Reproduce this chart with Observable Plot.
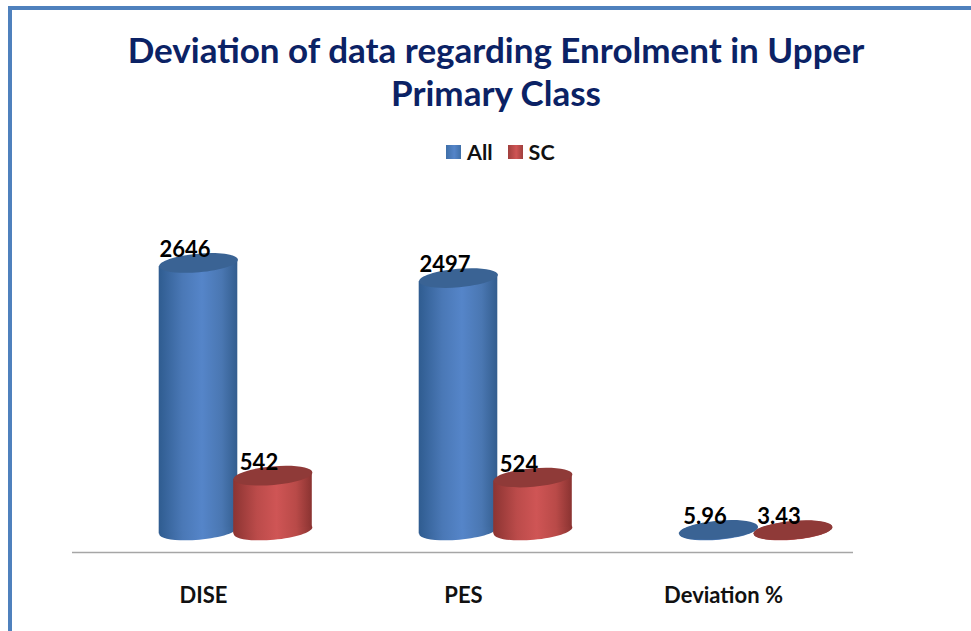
<!DOCTYPE html>
<html>
<head>
<meta charset="utf-8">
<script src="https://cdn.jsdelivr.net/npm/d3@7"></script>
<script src="https://cdn.jsdelivr.net/npm/@observablehq/plot@0.6"></script>
<style>
  html, body { margin: 0; padding: 0; background: #fff; }
  #page { position: relative; width: 971px; height: 631px; overflow: hidden; font-family: Lato, sans-serif; }
  #frame { position: absolute; left: 8px; top: 6px; right: -10px; bottom: -10px; border: 4px solid #4f81bd; }
  #title { position: absolute; left: 0; top: 28px; width: 992px; margin: 0; text-align: center;
           font: 700 35px/43px Lato, sans-serif; color: #0b2265; }
  #legend { position: absolute; top: 140px; left: 446px; height: 24px; display: flex; align-items: center;
            font: 700 21.5px/24px Lato, sans-serif; color: #111; }
  #legend i { display: inline-block; width: 15px; height: 14px; }
  #legend span { margin: 0 15px 0 6px; }
  #chart { position: absolute; left: 0; top: 180px; }
  svg { display: block; }
</style>
</head>
<body>
<div id="page">
  <div id="frame"></div>
  <h1 id="title">Deviation of data regarding Enrolment in Upper<br>Primary Class</h1>
  <div id="legend">
    <i style="background:linear-gradient(90deg,#3f6fa8,#5585c9 55%,#3f6fa8)"></i><span>All</span>
    <i style="background:linear-gradient(90deg,#a03f3d,#cf5555 55%,#a03f3d)"></i><span>SC</span>
  </div>
  <div id="chart"></div>
</div>
<script>
const categories = ["DISE", "PES", "Deviation %"];
const allValues = [2646, 2497, 5.96];
const scValues = [542, 524, 3.43];
const allLabels = ["2646", "2497", "5.96"];
const scLabels = ["542", "524", "3.43"];

const allRows = categories.map((c, i) => ({category: c, value: allValues[i], label: allLabels[i]}));
const scRows = categories.map((c, i) => ({category: c, value: scValues[i], label: scLabels[i]}));

// a tilted flat ellipse: the cylinder cap
const tilt = -5 * Math.PI / 180;
const capRatio = 0.235;
const ellipse = {
  draw(ctx, size) {
    const rx = Math.sqrt(size / Math.PI), ry = rx * capRatio, k = 0.5523;
    const c = Math.cos(tilt), s = Math.sin(tilt);
    const p = (x, y) => [x * c - y * s, x * s + y * c];
    ctx.moveTo(...p(rx, 0));
    ctx.bezierCurveTo(...p(rx, k * ry), ...p(k * rx, ry), ...p(0, ry));
    ctx.bezierCurveTo(...p(-k * rx, ry), ...p(-rx, k * ry), ...p(-rx, 0));
    ctx.bezierCurveTo(...p(-rx, -k * ry), ...p(-k * rx, -ry), ...p(0, -ry));
    ctx.bezierCurveTo(...p(k * rx, -ry), ...p(rx, -k * ry), ...p(rx, 0));
    ctx.closePath();
  }
};

// the cylinder side follows the tilt of its caps
const skewBody = (index, scales, values, dims, context, next) => {
  const g = next(index, scales, values, dims, context);
  g.querySelectorAll("rect").forEach((r) => {
    const cx = +r.getAttribute("x") + +r.getAttribute("width") / 2;
    r.setAttribute("transform", `translate(${cx},0) skewY(-5) translate(${-cx},0)`);
  });
  return g;
};

const radius = 39.5;
const inset = 90.7;
const cylinder = (rows, dx, body, cap) => [
  Plot.dot(rows, {x: "category", y: () => 0, r: radius, dx, symbol: ellipse, fill: body, stroke: "none"}),
  Plot.barY(rows, {x: "category", y: "value", dx, insetLeft: inset, insetRight: inset, fill: body, render: skewBody}),
  Plot.dot(rows, {x: "category", y: "value", r: radius, dx, symbol: ellipse, fill: cap, stroke: "none"})
];
const labels = (rows, dx) =>
  Plot.text(rows, {x: "category", y: "value", text: "label", dx, dy: -13,
    fontSize: 22, fontWeight: 700, fill: "#000", fontFamily: "Lato, sans-serif"});

const plot = Plot.plot({
  width: 971, height: 451,
  marginLeft: 72, marginRight: 118, marginTop: 20, marginBottom: 101,
  style: {background: "transparent", overflow: "visible"},
  x: {domain: categories, padding: 0, label: null},
  y: {domain: [0, 3264], axis: null},
  marks: [
    Plot.ruleY([0], {dy: 22, stroke: "#a6a6a6", strokeWidth: 1.5}),
    Plot.axisX({anchor: "bottom", tickSize: 0, tickPadding: 57, label: null,
      fontSize: 22, fontWeight: 700, fill: "#111", fontFamily: "Lato, sans-serif"}),
    ...cylinder(allRows, -5, "url(#blueSide)", "#3a6394"),
    ...cylinder(scRows, 69.5, "url(#redSide)", "#8f3a38"),
    labels(allRows, -18.5),
    labels(scRows, 55.5)
  ]
});

const defs = d3.select(plot).insert("defs", ":first-child");
const gradient = (id, stops) => {
  const g = defs.append("linearGradient").attr("id", id).attr("x1", 0).attr("x2", 1).attr("y1", 0).attr("y2", 0);
  stops.forEach(([o, c]) => g.append("stop").attr("offset", o).attr("stop-color", c));
};
gradient("blueSide", [[0, "#2f5c90"], [0.3, "#4a78b6"], [0.55, "#5585c9"], [0.8, "#4a77b2"], [1, "#335d8e"]]);
gradient("redSide", [[0, "#8c3432"], [0.3, "#bb4b4a"], [0.55, "#cf5555"], [0.8, "#b94a48"], [1, "#8a3331"]]);

document.getElementById("chart").append(plot);
</script>
</body>
</html>
